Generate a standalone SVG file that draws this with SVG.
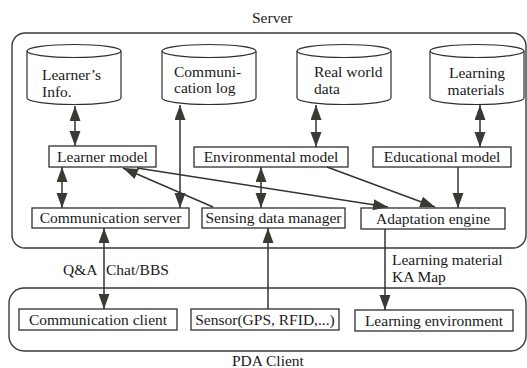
<svg xmlns="http://www.w3.org/2000/svg" width="527" height="368" viewBox="0 0 527 368" font-family="'Liberation Serif', 'DejaVu Serif', serif">
  <style>
    text { font-family: "Liberation Serif", "DejaVu Serif", serif; font-size: 15.5px; fill: #1a1a1a; }
    .mid { text-anchor: middle; }
    .frame { fill: none; stroke: #3a3a3a; stroke-width: 1.4; }
    .box { fill: #fff; stroke: #2e2e2e; stroke-width: 1.3; }
    .cyl { fill: #fff; stroke: #2e2e2e; stroke-width: 1.2; }
    .edge { fill: none; stroke: #333; stroke-width: 1.5; }
    .one { marker-end: url(#head); }
    .two { marker-start: url(#head); marker-end: url(#head); }
  </style>
  <defs>
    <marker id="head" markerUnits="userSpaceOnUse" markerWidth="16" markerHeight="12" refX="15" refY="5.5" orient="auto-start-reverse">
      <path d="M0,0 L15,5.5 L0,11 Z" fill="#3a3a35"/>
    </marker>
  </defs>

  <!-- containers -->
  <g id="server">
    <rect class="frame" x="12" y="33" width="514" height="215" rx="13"/>
    <text x="252" y="23">Server</text>
  </g>
  <g id="pda-client">
    <rect class="frame" x="9" y="288" width="517" height="63" rx="15"/>
    <text x="232" y="366">PDA Client</text>
  </g>

  <!-- data stores -->
  <g id="learners-info">
    <path class="cyl" d="M27,51 L27,98 A47,6.5 0 0 0 121,98 L121,51"/>
    <ellipse class="cyl" cx="74" cy="51" rx="47" ry="6.5"/>
    <text x="42" y="80">Learner’s</text>
    <text x="42" y="97">Info.</text>
  </g>
  <g id="communication-log">
    <path class="cyl" d="M162,51 L162,98 A47,6.5 0 0 0 256,98 L256,51"/>
    <ellipse class="cyl" cx="209" cy="51" rx="47" ry="6.5"/>
    <text x="174" y="77">Communi-</text>
    <text x="174" y="93">cation log</text>
  </g>
  <g id="real-world-data">
    <path class="cyl" d="M297,51 L297,98 A47,6.5 0 0 0 391,98 L391,51"/>
    <ellipse class="cyl" cx="344" cy="51" rx="47" ry="6.5"/>
    <text x="314" y="77">Real world</text>
    <text x="314" y="94">data</text>
  </g>
  <g id="learning-materials">
    <path class="cyl" d="M430,51 L430,98 A47,6.5 0 0 0 524,98 L524,51"/>
    <ellipse class="cyl" cx="477" cy="51" rx="47" ry="6.5"/>
    <text class="mid" x="477" y="78">Learning</text>
    <text class="mid" x="476" y="95">materials</text>
  </g>

  <!-- server modules -->
  <g id="learner-model">
    <rect class="box" x="49" y="146" width="107" height="21"/>
    <text class="mid" x="102.5" y="162">Learner model</text>
  </g>
  <g id="environmental-model">
    <rect class="box" x="194" y="147" width="154" height="20"/>
    <text class="mid" x="271" y="162">Environmental model</text>
  </g>
  <g id="educational-model">
    <rect class="box" x="373" y="147" width="138" height="20"/>
    <text class="mid" x="442" y="162">Educational model</text>
  </g>
  <g id="communication-server">
    <rect class="box" x="32" y="208" width="157" height="20"/>
    <text class="mid" x="110.5" y="223">Communication server</text>
  </g>
  <g id="sensing-data-manager">
    <rect class="box" x="202" y="208" width="143" height="20"/>
    <text class="mid" x="273.5" y="223">Sensing data manager</text>
  </g>
  <g id="adaptation-engine">
    <rect class="box" x="361" y="208" width="144" height="21"/>
    <text class="mid" x="433" y="224">Adaptation engine</text>
  </g>

  <!-- client modules -->
  <g id="communication-client">
    <rect class="box" x="19" y="309" width="158" height="21"/>
    <text class="mid" x="98" y="325">Communication client</text>
  </g>
  <g id="sensor">
    <rect class="box" x="191" y="309" width="148" height="21"/>
    <text class="mid" x="265" y="325">Sensor(GPS, RFID,...)</text>
  </g>
  <g id="learning-environment">
    <rect class="box" x="355" y="310" width="158" height="21"/>
    <text class="mid" x="434" y="326">Learning environment</text>
  </g>

  <!-- connectors -->
  <g id="connectors">
    <line class="edge two" x1="75" y1="106" x2="75" y2="146"/>
    <line class="edge two" x1="180" y1="105" x2="180" y2="208"/>
    <line class="edge two" x1="316" y1="105" x2="316" y2="147"/>
    <line class="edge two" x1="480" y1="105" x2="480" y2="147"/>
    <line class="edge two" x1="62" y1="167" x2="62" y2="208"/>
    <line class="edge two" x1="261" y1="167" x2="261" y2="208"/>
    <line class="edge one" x1="213" y1="207" x2="123" y2="168"/>
    <line class="edge one" x1="137" y1="168" x2="388" y2="207"/>
    <line class="edge one" x1="327" y1="167" x2="435" y2="207"/>
    <line class="edge one" x1="458" y1="167" x2="458" y2="208"/>
    <line class="edge two" x1="104" y1="228" x2="104" y2="309"/>
    <line class="edge one" x1="268" y1="309" x2="268" y2="228"/>
    <line class="edge one" x1="385" y1="229" x2="385" y2="310"/>
  </g>

  <!-- link labels -->
  <g id="labels">
    <text x="63" y="275">Q&amp;A</text>
    <text x="106" y="275">Chat/BBS</text>
    <text x="392" y="265">Learning material</text>
    <text x="392" y="282">KA Map</text>
  </g>
</svg>
